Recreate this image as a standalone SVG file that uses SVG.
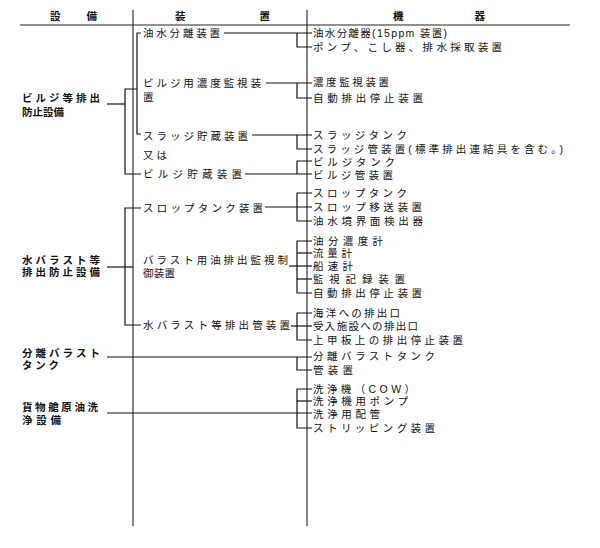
<svg xmlns="http://www.w3.org/2000/svg" width="600" height="548" viewBox="0 0 600 548">
<style>
text{font-family:"Liberation Sans","Noto Sans CJK JP",sans-serif;font-size:10.5px;fill:#111;}
.h{font-weight:bold;}
.c1{font-weight:bold;}
.ln{stroke:#111;stroke-width:1.2;fill:none;}
.rule{stroke:#222;stroke-width:1.1;fill:none;}
</style>
<rect width="600" height="548" fill="#fff"/>
<g id="header">
<text class="h" x="50" y="20" textLength="47" lengthAdjust="spacing">設　　備</text>
<text class="h" x="175" y="20" textLength="95" lengthAdjust="spacing">装　　　置</text>
<text class="h" x="393" y="20" textLength="92" lengthAdjust="spacing">機　　器</text>
</g>
<g id="rules">
<line class="rule" x1="20" y1="25" x2="570" y2="25"/>
<line class="rule" x1="133" y1="10" x2="133" y2="526"/>
<line class="rule" x1="307" y1="10" x2="307" y2="526"/>
</g>
<g id="connectors">
<!-- bilge -->
<polyline class="ln" points="107,104 125,104"/>
<polyline class="ln" points="137,89 125,89 125,174 141,174"/>
<polyline class="ln" points="141,33 137,33 137,134 141,134"/>
<polyline class="ln" points="224,33 312,33"/>
<polyline class="ln" points="297,33 297,47 312,47"/>
<polyline class="ln" points="266,83 312,83"/>
<polyline class="ln" points="297,83 297,98 312,98"/>
<polyline class="ln" points="252,135 312,135"/>
<polyline class="ln" points="297,135 297,149 312,149"/>
<polyline class="ln" points="245,174 312,174"/>
<polyline class="ln" points="297,174 297,161 312,161"/>
<!-- water ballast -->
<polyline class="ln" points="107,267 133,267"/>
<polyline class="ln" points="141,208 125,208 125,325 141,325"/>
<polyline class="ln" points="265,207 312,207"/>
<polyline class="ln" points="312,193 297,193 297,221 312,221"/>
<polyline class="ln" points="289,266 312,266"/>
<polyline class="ln" points="312,241 297,241 297,293 312,293"/>
<polyline class="ln" points="297,253 312,253"/>
<polyline class="ln" points="297,279 312,279"/>
<polyline class="ln" points="291,326 312,326"/>
<polyline class="ln" points="312,313 297,313 297,340 312,340"/>
<!-- segregated ballast -->
<polyline class="ln" points="107,357 312,357"/>
<polyline class="ln" points="297,357 297,370 312,370"/>
<!-- COW -->
<polyline class="ln" points="107,413 312,413"/>
<polyline class="ln" points="312,389 297,389 297,428 312,428"/>
<polyline class="ln" points="297,401 312,401"/>
</g>
<g id="bilge">
<text class="c1" x="22" y="102" textLength="78" lengthAdjust="spacing">ビルジ等排出</text>
<text class="c1" x="22" y="116" textLength="42" lengthAdjust="spacing">防止設備</text>
</g>
<g id="bilge-sep">
<text x="143" y="37" textLength="77" lengthAdjust="spacing">油水分離装置</text>
</g>
<g id="bilge-monitor">
<text x="143" y="87" textLength="118" lengthAdjust="spacing">ビルジ用濃度監視装</text>
<text x="143" y="101">置</text>
</g>
<g id="sludge-storage">
<text x="143" y="140" textLength="105" lengthAdjust="spacing">スラッジ貯蔵装置</text>
</g>
<g id="or">
<text x="143" y="159" textLength="24" lengthAdjust="spacing">又は</text>
</g>
<g id="bilge-storage">
<text x="143" y="178" textLength="99" lengthAdjust="spacing">ビルジ貯蔵装置</text>
</g>
<g id="bilge-equip">
<text x="313" y="37" textLength="134" lengthAdjust="spacing">油水分離器(15ppm 装置)</text>
<text x="313" y="51" textLength="189" lengthAdjust="spacing">ポンプ、こし器、排水採取装置</text>
<text x="313" y="86" textLength="76" lengthAdjust="spacing">濃度監視装置</text>
<text x="313" y="102" textLength="110" lengthAdjust="spacing">自動排出停止装置</text>
<text x="313" y="139" textLength="94" lengthAdjust="spacing">スラッジタンク</text>
<text x="313" y="153" textLength="250" lengthAdjust="spacing">スラッジ管装置(標準排出連結具を含む。)</text>
<text x="313" y="166" textLength="82" lengthAdjust="spacing">ビルジタンク</text>
<text x="313" y="179" textLength="80" lengthAdjust="spacing">ビルジ管装置</text>
</g>
<g id="water-ballast">
<text class="c1" x="22" y="264" textLength="78" lengthAdjust="spacing">水バラスト等</text>
<text class="c1" x="22" y="276" textLength="78" lengthAdjust="spacing">排出防止設備</text>
</g>
<g id="slop-tank">
<text x="143" y="212" textLength="120" lengthAdjust="spacing">スロップタンク装置</text>
</g>
<g id="ballast-monitor">
<text x="143" y="264" textLength="145" lengthAdjust="spacing">バラスト用油排出監視制</text>
<text x="143" y="277" textLength="32" lengthAdjust="spacing">御装置</text>
</g>
<g id="ballast-pipe">
<text x="143" y="329" textLength="147" lengthAdjust="spacing">水バラスト等排出管装置</text>
</g>
<g id="ballast-equip">
<text x="313" y="197" textLength="94" lengthAdjust="spacing">スロップタンク</text>
<text x="313" y="211" textLength="109" lengthAdjust="spacing">スロップ移送装置</text>
<text x="313" y="225" textLength="110" lengthAdjust="spacing">油水境界面検出器</text>
<text x="313" y="245" textLength="70" lengthAdjust="spacing">油分濃度計</text>
<text x="313" y="257" textLength="39" lengthAdjust="spacing">流量計</text>
<text x="313" y="270" textLength="40" lengthAdjust="spacing">船速計</text>
<text x="313" y="283" textLength="92" lengthAdjust="spacing">監視記録装置</text>
<text x="313" y="297" textLength="109" lengthAdjust="spacing">自動排出停止装置</text>
<text x="313" y="317" textLength="87" lengthAdjust="spacing">海洋への排出口</text>
<text x="313" y="330" textLength="105" lengthAdjust="spacing">受入施設への排出口</text>
<text x="313" y="344" textLength="150" lengthAdjust="spacing">上甲板上の排出停止装置</text>
</g>
<g id="segregated-ballast">
<text class="c1" x="22" y="357" textLength="78" lengthAdjust="spacing">分離バラスト</text>
<text class="c1" x="22" y="369" textLength="37" lengthAdjust="spacing">タンク</text>
</g>
<g id="segregated-equip">
<text x="313" y="360" textLength="122" lengthAdjust="spacing">分離バラストタンク</text>
<text x="313" y="374" textLength="40" lengthAdjust="spacing">管装置</text>
</g>
<g id="cow">
<text class="c1" x="22" y="411" textLength="76" lengthAdjust="spacing">貨物艙原油洗</text>
<text class="c1" x="22" y="424" textLength="39" lengthAdjust="spacing">浄設備</text>
</g>
<g id="cow-equip">
<text x="313" y="393" textLength="102" lengthAdjust="spacing">洗浄機（COW）</text>
<text x="313" y="405" textLength="95" lengthAdjust="spacing">洗浄機用ポンプ</text>
<text x="313" y="418" textLength="67" lengthAdjust="spacing">洗浄用配管</text>
<text x="313" y="432" textLength="122" lengthAdjust="spacing">ストリッピング装置</text>
</g>
</svg>
